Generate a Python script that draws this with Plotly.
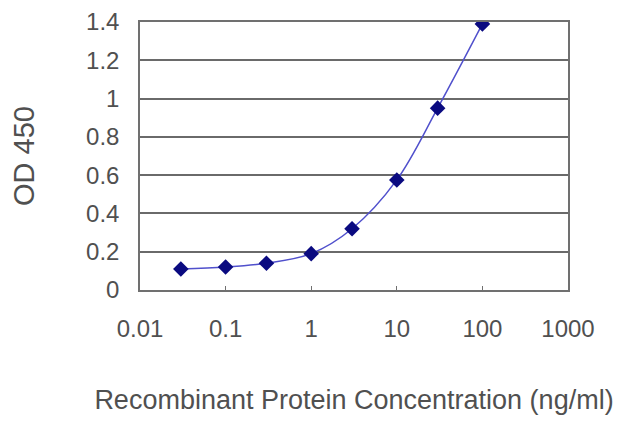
import plotly.graph_objects as go

conc = [0.03, 0.1, 0.3, 1, 3, 10, 30, 100]
od450 = [0.11, 0.12, 0.14, 0.19, 0.32, 0.575, 0.95, 1.39]

x_ticks = [0.01, 0.1, 1, 10, 100, 1000]
x_labels = ["0.01", "0.1", "1", "10", "100", "1000"]
y_ticks = [0, 0.2, 0.4, 0.6, 0.8, 1, 1.2, 1.4]
y_labels = ["0", "0.2", "0.4", "0.6", "0.8", "1", "1.2", "1.4"]

fig = go.Figure(go.Scatter(
    x=conc, y=od450,
    mode="lines+markers",
    line=dict(color="#5050cc", width=1.5, shape="spline", smoothing=1.0),
    marker=dict(symbol="diamond", size=12, color="#0a0a80"),
))

# page has an 8px body margin, so margins are shifted to compensate
fig.update_layout(
    width=640, height=427,
    margin=dict(l=132, r=80, t=14, b=145),
    plot_bgcolor="white", paper_bgcolor="white",
    font=dict(family="Liberation Sans", size=24, color="#505050"),
    showlegend=False,
)
fig.update_xaxes(
    type="log", range=[-2, 3], automargin=False,
    tickvals=x_ticks, ticktext=x_labels,
    showgrid=False, zeroline=False,
    showline=True, linecolor="#707070", linewidth=1.5, mirror=True,
    ticks="inside", ticklen=4, tickcolor="#707070",
    ticklabelstandoff=16,
    title=dict(text="Recombinant Protein Concentration (ng/ml)", standoff=50,
               font=dict(size=27)),
)
fig.update_yaxes(
    range=[0, 1.4], automargin=False,
    tickvals=y_ticks, ticktext=y_labels,
    showgrid=True, gridcolor="#6a6a6a", gridwidth=2,
    zeroline=False,
    showline=True, linecolor="#707070", linewidth=1.5, mirror=True,
    ticks="", ticklabelstandoff=14,
    title=dict(text="OD 450", standoff=58),
)

fig.write_html("out.html")
